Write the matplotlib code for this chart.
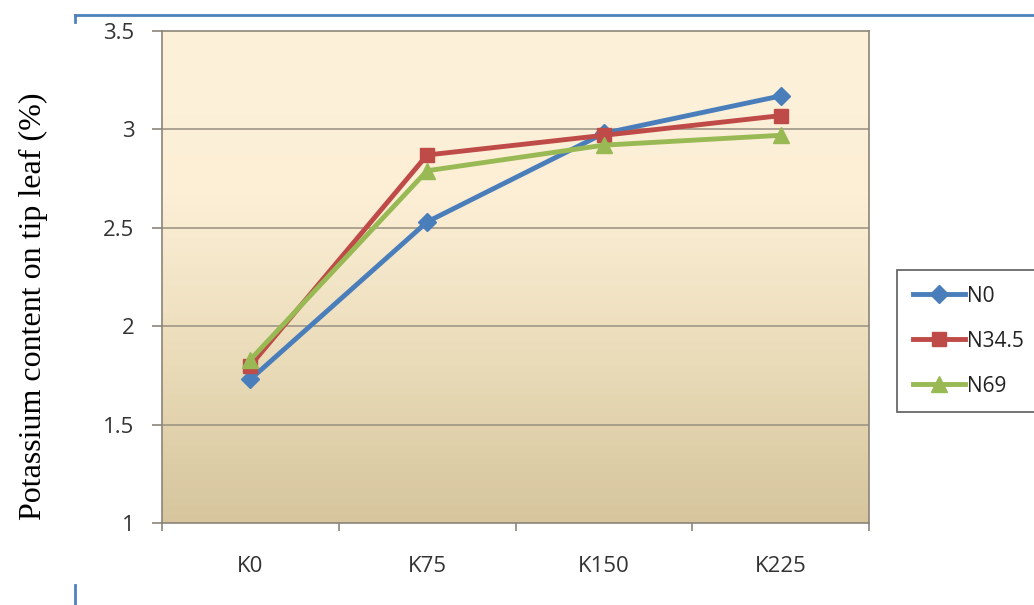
import numpy as np
import matplotlib.pyplot as plt
from matplotlib.lines import Line2D
from matplotlib.colors import LinearSegmentedColormap

categories = ["K0", "K75", "K150", "K225"]
n0 = [1.73, 2.53, 2.98, 3.17]
n34_5 = [1.80, 2.87, 2.97, 3.07]
n69 = [1.83, 2.79, 2.92, 2.97]
series_names = ["N0", "N34.5", "N69"]
y_ticks = [1, 1.5, 2, 2.5, 3, 3.5]
y_tick_labels = ["1", "1.5", "2", "2.5", "3", "3.5"]

W, H = 1034, 605
fig = plt.figure(figsize=(W / 100, H / 100), dpi=100)
fig.patch.set_facecolor("white")

ax = fig.add_axes([162 / W, (H - 523) / H, 707 / W, 492 / H])
x = np.arange(len(categories))
ax.set_xlim(-0.5, len(categories) - 0.5)
ax.set_ylim(1, 3.5)

# vertical cream-to-tan gradient background
cmap = LinearSegmentedColormap.from_list("bg", ["#d6c59d", "#eadcb9", "#fcefd6", "#fdf1da"], N=256)
grad = np.linspace(0, 1, 256).reshape(-1, 1)
ax.imshow(grad, extent=(-0.5, len(categories) - 0.5, 1, 3.5), origin="lower",
          aspect="auto", cmap=cmap, zorder=0)

for yv in y_ticks[1:-1]:
    ax.axhline(yv, color="#9e9686", lw=1.2, zorder=1)

colors = ["#4a7ebb", "#be4b48", "#98b954"]
markers = ["D", "s", "^"]
msizes = [9, 10.5, 11]
for vals, c, m, ms, name in zip([n0, n34_5, n69], colors, markers, msizes, series_names):
    ax.plot(x, vals, color=c, lw=3.5, marker=m, markersize=ms, zorder=3,
            label=name, solid_capstyle="round")

for s in ax.spines.values():
    s.set_color("#8c8478")
    s.set_linewidth(1.2)

ax.set_yticks(y_ticks)
ax.set_yticklabels(y_tick_labels)
ax.set_xticks(x)
ax.set_xticklabels(categories)
ax.set_xticks(np.arange(-0.5, len(categories) + 0.5, 1), minor=True)
ax.tick_params(axis="x", which="major", length=0, pad=24, labelsize=16, labelcolor="#333333")
ax.tick_params(axis="x", which="minor", length=6, color="#8c8478", width=1.2)
ax.tick_params(axis="y", length=7, width=1.2, color="#8c8478", pad=13, labelsize=16,
               labelcolor="#333333")
for lbl in ax.get_xticklabels() + ax.get_yticklabels():
    lbl.set_family("Open Sans")

fig.text(33 / W, 0.494, "Potassium content on tip leaf (%)", rotation=90,
         ha="center", va="center", fontsize=23, family="Liberation Serif")

handles = [Line2D([], [], color=c, lw=3.5, marker=m, markersize=ms)
           for c, m, ms in zip(colors, markers, msizes)]
leg = fig.legend(handles, series_names, loc="upper left",
                 bbox_to_anchor=(897 / W, (H - 270) / H), frameon=True,
                 fancybox=False, handlelength=2.5, handletextpad=0.1,
                 labelspacing=1.15, borderpad=0.75, borderaxespad=0,
                 prop={"family": "Open Sans", "size": 15})
leg.get_frame().set_edgecolor("#333333")
leg.get_frame().set_linewidth(1.2)
for t in leg.get_texts():
    t.set_color("#222222")

# page border fragments
border = "#4f81bd"
fig.add_artist(Line2D([75 / W, 1.0], [(H - 15) / H] * 2, color=border, lw=2))
fig.add_artist(Line2D([75 / W] * 2, [(H - 15) / H, (H - 22) / H], color=border, lw=2))
fig.add_artist(Line2D([75 / W] * 2, [(H - 585) / H, 0.0], color=border, lw=2))

fig.savefig("out.png", dpi=100, facecolor="white")
